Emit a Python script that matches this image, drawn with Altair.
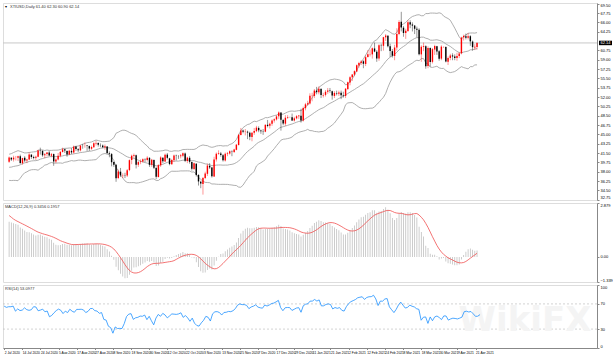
import altair as alt
import pandas as pd
import numpy as np

# ---------------- data ----------------
date_labels = ["2 Jul 2020", "14 Jul 2020", "24 Jul 2020", "5 Aug 2020", "17 Aug 2020", "27 Aug 2020",
               "8 Sep 2020", "18 Sep 2020", "30 Sep 2020", "12 Oct 2020", "22 Oct 2020", "3 Nov 2020",
               "13 Nov 2020", "25 Nov 2020", "7 Dec 2020", "17 Dec 2020", "29 Dec 2020", "11 Jan 2021",
               "21 Jan 2021", "2 Feb 2021", "12 Feb 2021", "24 Feb 2021", "8 Mar 2021", "18 Mar 2021",
               "30 Mar 2021", "9 Apr 2021", "21 Apr 2021"]

price_ticks = [32.75, 34.50, 36.25, 38.00, 39.75, 41.50, 43.25, 45.00, 46.75, 48.50, 50.25, 52.00,
               53.75, 55.50, 57.25, 59.00, 60.75, 64.25, 66.00, 67.75, 69.50]
macd_ticks = [2.879, 0.0, -1.339]
rsi_ticks = [100, 70, 30, 0]

# closes before the first visible bar (indicator history)
history_closes = [19.78, 20.39, 24.56, 23.99, 23.55, 24.74, 24.14, 25.78, 25.29, 27.56, 29.43, 31.82,
                  32.50, 33.49, 33.92, 33.25, 33.60, 34.35, 32.81, 33.71, 35.49, 35.44, 36.81, 37.29,
                  37.41, 39.55, 38.19, 38.94, 39.60, 36.34, 36.26, 37.12, 38.38, 37.96, 38.84, 39.75,
                  40.46, 40.37, 38.01, 38.72, 38.49, 39.70, 39.27, 39.82]

opens = [
    # Jul
    39.85, 40.60, 40.30, 40.60, 40.60, 40.90, 39.60, 40.60, 40.10, 40.30, 41.20, 40.75, 40.60, 40.80,
    41.95, 41.90, 41.10, 41.30, 41.60, 41.00, 41.30, 39.90,
    # Aug
    40.30, 41.00, 41.70, 42.20, 41.90, 41.20, 41.90, 41.60, 42.70, 42.20, 42.00, 42.90, 42.90, 42.90,
    42.80, 42.30, 42.60, 43.30, 43.40, 43.00, 42.90,
    # Sep
    42.60, 42.70, 41.50, 41.30, 39.80, 39.30, 36.80, 38.00, 37.30, 37.30, 37.30, 38.30, 40.20, 41.00,
    41.10, 39.30, 39.80, 39.90, 40.30, 40.20, 40.60, 39.30,
    # Oct
    40.20, 38.70, 37.00, 39.20, 40.60, 39.90, 41.20, 40.50, 39.40, 40.20, 41.00, 40.90, 40.90, 41.00,
    41.40, 40.00, 40.60, 39.80, 38.50, 39.50, 37.40, 36.10,
    # Nov
    35.70, 36.80, 37.60, 39.10, 38.80, 37.10, 40.30, 41.30, 41.40, 41.10, 40.10, 41.30, 41.40, 41.80,
    41.70, 42.10, 43.00, 44.90, 45.70, 45.50, 45.50,
    # Dec
    45.30, 44.50, 45.30, 45.60, 46.20, 45.70, 45.60, 45.50, 46.80, 46.60, 47.00, 47.60, 47.80, 48.40,
    49.10, 47.70, 47.00, 48.10, 48.23, 48.20, 47.60, 48.00, 48.40,
    # Jan
    48.50, 47.60, 49.90, 50.60, 50.80, 52.20, 52.20, 53.20, 52.90, 53.50, 52.30, 52.40, 53.00, 53.20,
    53.10, 52.20, 52.70, 52.60, 52.80, 52.30,
    # Feb
    52.20, 53.50, 54.70, 55.70, 56.20, 56.80, 57.90, 58.40, 58.70, 58.20, 59.50, 60.00, 60.00, 61.10,
    60.50, 59.20, 61.70, 61.60, 63.20, 63.50,
    # Mar
    61.50, 60.60, 59.70, 61.30, 63.80, 66.10, 65.00, 64.00, 64.40, 66.00, 65.60, 65.40, 64.80, 64.60,
    60.00, 61.40, 61.50, 57.80, 61.20, 58.60, 60.90, 61.50, 60.60,
    # Apr
    59.20, 61.40, 61.40, 58.60, 59.30, 59.80, 59.60, 59.30, 59.70, 60.20, 63.20, 63.40, 63.10, 63.40,
    62.40, 61.30, 61.40]

highs = [
    40.85, 40.70, 41.00, 40.95, 41.00, 41.20, 40.60, 40.90, 40.40, 41.60, 41.25, 41.00, 41.00, 42.10,
    42.50, 42.00, 41.50, 41.70, 41.90, 41.50, 41.40, 40.50,
    41.50, 41.90, 42.50, 42.30, 42.00, 42.10, 42.40, 42.90, 42.80, 42.40, 43.00, 43.20, 43.50, 43.00,
    42.90, 42.90, 43.50, 43.80, 43.50, 43.30, 43.10,
    43.10, 42.80, 41.80, 41.50, 39.90, 39.40, 38.40, 38.70, 37.70, 37.80, 38.50, 40.30, 41.20, 41.40,
    41.20, 40.00, 40.30, 40.50, 40.50, 40.90, 40.70, 40.40,
    40.30, 38.90, 39.40, 40.90, 40.70, 41.40, 41.50, 40.60, 40.40, 41.20, 41.20, 41.10, 41.30, 41.60,
    41.60, 40.80, 40.90, 39.90, 39.70, 39.60, 37.50, 36.30,
    37.00, 38.00, 39.50, 39.60, 38.90, 40.80, 41.60, 42.00, 41.70, 41.30, 41.60, 41.70, 42.00, 42.00,
    42.30, 43.20, 45.10, 46.20, 45.90, 46.00, 45.70,
    45.50, 45.40, 46.20, 46.60, 46.50, 45.90, 46.00, 46.90, 47.70, 47.20, 47.80, 48.00, 48.60, 49.30,
    49.10, 47.90, 48.60, 48.60, 48.30, 48.90, 48.30, 48.60, 48.60,
    49.80, 50.20, 50.90, 51.30, 52.70, 52.80, 53.50, 53.90, 54.00, 53.70, 52.80, 53.30, 53.70, 53.70,
    53.20, 53.10, 53.20, 53.20, 53.20, 53.00,
    53.70, 54.90, 55.90, 56.30, 57.00, 58.10, 58.60, 58.90, 58.90, 59.80, 60.80, 60.90, 61.30, 62.20,
    60.80, 61.90, 62.00, 63.30, 63.80, 63.60,
    62.00, 61.00, 61.80, 64.90, 66.40, 67.98, 65.30, 64.80, 66.40, 66.40, 66.00, 65.50, 65.20, 64.90,
    61.70, 62.20, 61.70, 61.50, 61.30, 61.20, 61.80, 61.60, 60.80,
    61.70, 61.50, 61.50, 59.60, 60.10, 60.20, 60.00, 60.30, 60.40, 63.30, 63.70, 63.90, 64.00, 63.60,
    62.60, 61.90, 62.30]

lows = [
    39.65, 40.00, 39.90, 40.10, 40.00, 39.45, 39.30, 39.80, 39.60, 40.20, 40.40, 40.30, 40.20, 40.70,
    41.20, 40.80, 40.50, 40.90, 40.90, 40.70, 39.10, 39.60,
    40.10, 40.70, 41.60, 41.50, 40.80, 41.10, 41.30, 41.40, 41.90, 41.70, 41.80, 42.30, 42.50, 41.90,
    41.90, 42.10, 42.50, 42.90, 42.70, 42.60, 42.40,
    42.10, 41.30, 40.70, 39.00, 38.90, 36.10, 36.60, 37.00, 36.80, 36.80, 37.00, 38.10, 39.40, 40.60,
    38.60, 38.90, 39.40, 39.70, 39.80, 39.90, 38.90, 38.90,
    38.50, 36.60, 36.90, 38.90, 39.60, 39.80, 40.30, 39.20, 39.30, 39.80, 40.10, 40.40, 40.50, 40.70,
    39.80, 39.60, 39.50, 38.20, 38.30, 37.10, 35.40, 34.90,
    33.70, 36.60, 37.20, 38.50, 36.90, 37.00, 39.90, 41.20, 40.80, 39.90, 39.90, 40.90, 41.20, 40.90,
    41.50, 42.00, 42.90, 44.80, 45.20, 44.80, 44.10,
    43.90, 43.70, 44.90, 45.40, 45.40, 45.10, 44.90, 45.40, 46.30, 46.10, 46.60, 47.20, 47.60, 47.90,
    45.70, 46.70, 46.60, 47.90, 48.15, 47.50, 47.40, 47.80, 47.90,
    47.20, 47.40, 49.50, 50.40, 50.60, 51.20, 51.80, 52.50, 52.50, 51.80, 51.90, 52.10, 52.60, 52.80,
    51.50, 51.80, 52.30, 52.20, 51.60, 51.90,
    51.80, 53.30, 54.20, 55.00, 55.90, 56.70, 57.50, 58.00, 57.40, 57.80, 59.40, 59.60, 59.20, 60.40,
    58.60, 58.80, 60.60, 60.70, 62.50, 61.30,
    59.50, 59.40, 58.90, 60.70, 63.60, 64.30, 63.30, 62.90, 64.20, 64.90, 64.30, 63.80, 63.20, 59.80,
    58.60, 60.60, 57.30, 57.40, 57.70, 58.30, 59.90, 59.90, 58.80,
    58.90, 61.20, 58.50, 58.00, 58.90, 58.90, 58.90, 58.80, 59.30, 60.00, 62.60, 62.80, 62.80, 61.60,
    60.70, 60.80, 60.90]

closes = [
    40.65, 40.30, 40.63, 40.62, 40.90, 39.62, 40.55, 40.10, 40.29, 41.20, 40.75, 40.59, 40.81, 41.96,
    41.90, 41.07, 41.29, 41.60, 41.04, 41.27, 39.92, 40.27,
    41.01, 41.70, 42.19, 41.95, 41.22, 41.94, 41.61, 42.67, 42.24, 42.01, 42.89, 42.89, 42.93, 42.82,
    42.34, 42.62, 43.35, 43.39, 43.04, 42.97, 42.61,
    42.76, 41.51, 41.37, 39.77, 39.30, 36.76, 38.05, 37.30, 37.33, 37.26, 38.28, 40.16, 40.97, 41.11,
    39.31, 39.80, 39.93, 40.31, 40.25, 40.60, 39.29, 40.22,
    38.72, 37.05, 39.22, 40.67, 39.95, 41.19, 40.60, 39.43, 40.20, 41.04, 40.96, 40.88, 41.06, 41.46,
    40.03, 40.64, 39.85, 38.56, 39.57, 37.39, 36.17, 35.79,
    36.81, 37.66, 39.15, 38.79, 37.14, 40.29, 41.36, 41.45, 41.12, 40.13, 41.34, 41.43, 41.82, 41.74,
    42.15, 43.06, 44.91, 45.71, 45.50, 45.53, 45.34,
    44.55, 45.28, 45.64, 46.26, 45.76, 45.60, 45.52, 46.78, 46.57, 46.99, 47.62, 47.82, 48.36, 49.10,
    47.74, 47.02, 48.12, 48.23, 48.20, 47.62, 48.00, 48.40, 48.52,
    47.62, 49.93, 50.63, 50.83, 52.24, 52.25, 53.21, 52.91, 53.57, 52.36, 52.40, 52.98, 53.24, 53.13,
    52.27, 52.77, 52.61, 52.85, 52.34, 52.20,
    53.55, 54.76, 55.69, 56.23, 56.85, 57.97, 58.36, 58.68, 58.24, 59.47, 60.00, 60.05, 61.14, 60.52,
    59.24, 61.70, 61.67, 63.22, 63.53, 61.50,
    60.64, 59.75, 61.28, 63.83, 66.09, 65.05, 64.01, 64.44, 66.02, 65.61, 65.39, 64.80, 64.60, 60.00,
    61.42, 61.55, 57.76, 61.18, 58.56, 60.97, 61.56, 60.55, 59.16,
    61.45, 61.40, 58.65, 59.33, 59.77, 59.60, 59.32, 59.70, 60.18, 63.15, 63.46, 63.13, 63.38, 62.44,
    61.35, 61.43, 62.14]

# ---------------- table ----------------
n = len(closes)
df = pd.DataFrame({"i": np.arange(n), "open": opens, "high": highs, "low": lows, "close": closes})
df["dir"] = np.where(df["close"] >= df["open"], "up", "down")

allc = pd.Series(history_closes + closes, dtype=float)
k = len(history_closes)
mid = allc.rolling(20).mean()
sd = allc.rolling(20).std(ddof=0)
ema12 = allc.ewm(span=12, adjust=False).mean()
ema26 = allc.ewm(span=26, adjust=False).mean()
macd = ema12 - ema26
sig = macd.rolling(9).mean()
dlt = allc.diff()
ag = dlt.clip(lower=0).ewm(alpha=1 / 14, adjust=False).mean()
al = (-dlt.clip(upper=0)).ewm(alpha=1 / 14, adjust=False).mean()
rsi = 100 - 100 / (1 + ag / al)

df["bb_mid"] = mid.values[k:]
df["bb_up"] = (mid + 2 * sd).values[k:]
df["bb_lo"] = (mid - 2 * sd).values[k:]
df["macd"] = macd.values[k:]
df["sig"] = sig.values[k:]
df["rsi"] = rsi.values[k:]
df["zero"] = 0.0

last = df.iloc[-1]
W = 594
FONT = "Liberation Sans"
xs = alt.Scale(domain=[-0.5, 261.6], nice=False, zero=False)
X = alt.X("i:Q", scale=xs, axis=None)

# ---------------- main panel ----------------
ys = alt.Scale(domain=[32.69, 69.63], nice=False, zero=False)
base = alt.Chart(df)
yaxis = alt.Axis(values=price_ticks, format=".2f", orient="right", title=None, grid=False,
                 labelFontSize=4, tickSize=2, labelPadding=1, labelOverlap=False, labelFlush=True)


def Yp(field):
    return alt.Y(field, scale=ys, axis=yaxis)


cscale = alt.Scale(domain=["up", "down"], range=["#ff0000", "#000000"])

lastdf = pd.DataFrame({"p": [last["close"]], "hi": [last["close"] + 0.42], "lo": [last["close"] - 0.42],
                       "t": [f"{last['close']:.2f}"]})
pline = alt.Chart(lastdf).mark_rule(color="#c8c8c8", strokeWidth=1).encode(
    x=alt.value(0), x2=alt.value(W), y=Yp("p:Q"))
bands = [base.mark_line(color="#9a9a9a", strokeWidth=0.8).encode(x=X, y=Yp(f"{c}:Q"))
         for c in ["bb_up", "bb_mid", "bb_lo"]]
wick = base.mark_rule(strokeWidth=0.6, opacity=0.7).encode(
    x=X, y=Yp("low:Q"), y2="high:Q", color=alt.Color("dir:N", scale=cscale, legend=None))
body = base.mark_bar(size=1.4).encode(
    x=X, y=Yp("open:Q"), y2="close:Q", color=alt.Color("dir:N", scale=cscale, legend=None))
pbox = alt.Chart(lastdf).mark_rect(color="black").encode(
    x=alt.value(W + 2), x2=alt.value(W + 15), y=Yp("hi:Q"), y2="lo:Q")
ptxt = alt.Chart(lastdf).mark_text(color="white", fontSize=4, font=FONT, align="center", baseline="middle").encode(
    x=alt.value(W + 8.5), y=Yp("p:Q"), text="t:N")

header = f"XTIUSD,Daily  {last['open']:.2f} {last['high']:.2f} {last['low']:.2f} {last['close']:.2f}"
hdr = alt.Chart(pd.DataFrame({"t": [header]})).mark_text(
    fontSize=4, font=FONT, align="left", baseline="middle", color="#333333").encode(
    x=alt.value(7), y=alt.value(4), text="t:N")
tri = alt.Chart(pd.DataFrame({"t": ["▾"]})).mark_text(fontSize=4, align="left", baseline="middle").encode(
    x=alt.value(2), y=alt.value(4), text="t:N")

main = alt.layer(pline, *bands, wick, body, pbox, ptxt, hdr, tri).properties(width=W, height=197)

# ---------------- MACD panel ----------------
ms = alt.Scale(domain=[-1.339, 2.879], nice=False, zero=False)
maxis = alt.Axis(values=macd_ticks, orient="right", title=None, grid=False, labelFontSize=4, tickSize=2,
                 labelPadding=1, labelFlush=True, labelOverlap=False,
                 labelExpr="datum.value == 0 ? '0.00' : format(datum.value, '.3f')")
mb = alt.Chart(df).mark_bar(size=0.8, color="#c0c0c0", clip=True).encode(
    x=X, y=alt.Y("macd:Q", scale=ms, axis=maxis), y2="zero:Q")
ml = alt.Chart(df).mark_line(color="#f05050", strokeWidth=0.8, clip=True).encode(
    x=X, y=alt.Y("sig:Q", scale=ms, axis=maxis))
mtxt = alt.Chart(pd.DataFrame({"t": [f"MACD(12,26,9) {last['macd']:.4f} {last['sig']:.4f}"]})).mark_text(
    fontSize=4, font=FONT, align="left", baseline="middle", color="#333333").encode(
    x=alt.value(2), y=alt.value(4), text="t:N")
macd_panel = alt.layer(mb, ml, mtxt).properties(width=W, height=79)

# ---------------- RSI panel ----------------
rs = alt.Scale(domain=[0, 100], nice=False)
xaxis = alt.Axis(values=[8 * j for j in range(len(date_labels))], title=None, grid=False, labelFontSize=3.3,
                 tickSize=1.5, labelPadding=0.5, labelAlign="left", labelOverlap=False,
                 labelExpr="[" + ",".join(f"'{s}'" for s in date_labels) + "][round(datum.value / 8)]")
raxis = alt.Axis(values=rsi_ticks, orient="right", title=None, grid=False, labelFontSize=4, tickSize=2,
                 labelPadding=1, labelFlush=True, labelOverlap=False)
levels = alt.Chart(pd.DataFrame({"lv": [30, 70]})).mark_rule(color="#c0c0c0", strokeDash=[2, 2], strokeWidth=0.7).encode(
    y=alt.Y("lv:Q", scale=rs, axis=raxis), x=alt.value(0), x2=alt.value(W))
wm = alt.Chart(pd.DataFrame({"t": ["WikiFX"]})).mark_text(
    fontSize=34, font="DejaVu Sans", fontWeight="bold", color="#f4f4f4", align="center", baseline="middle").encode(
    x=alt.value(522), y=alt.value(36), text="t:N")
rl = alt.Chart(df).mark_line(color="#1e90ff", strokeWidth=0.8).encode(
    x=alt.X("i:Q", scale=xs, axis=xaxis), y=alt.Y("rsi:Q", scale=rs, axis=raxis))
rtxt = alt.Chart(pd.DataFrame({"t": [f"RSI(14) {last['rsi']:.4f}"]})).mark_text(
    fontSize=4, font=FONT, align="left", baseline="middle", color="#333333").encode(
    x=alt.value(2), y=alt.value(4), text="t:N")
rsi_panel = alt.layer(levels, wm, rl, rtxt).properties(width=W, height=63)

chart = alt.vconcat(main, macd_panel, rsi_panel, spacing=1).properties(
    padding={"left": 2, "top": 2, "right": 0, "bottom": 0}
).configure_view(stroke="#a0a0a0", strokeWidth=1).configure_axis(
    labelFont=FONT, labelColor="black", domainColor="black", tickColor="black", domainWidth=1, tickWidth=0.6
).configure(background="white")

chart.save("out.html", embed_options={"renderer": "svg", "actions": False})
